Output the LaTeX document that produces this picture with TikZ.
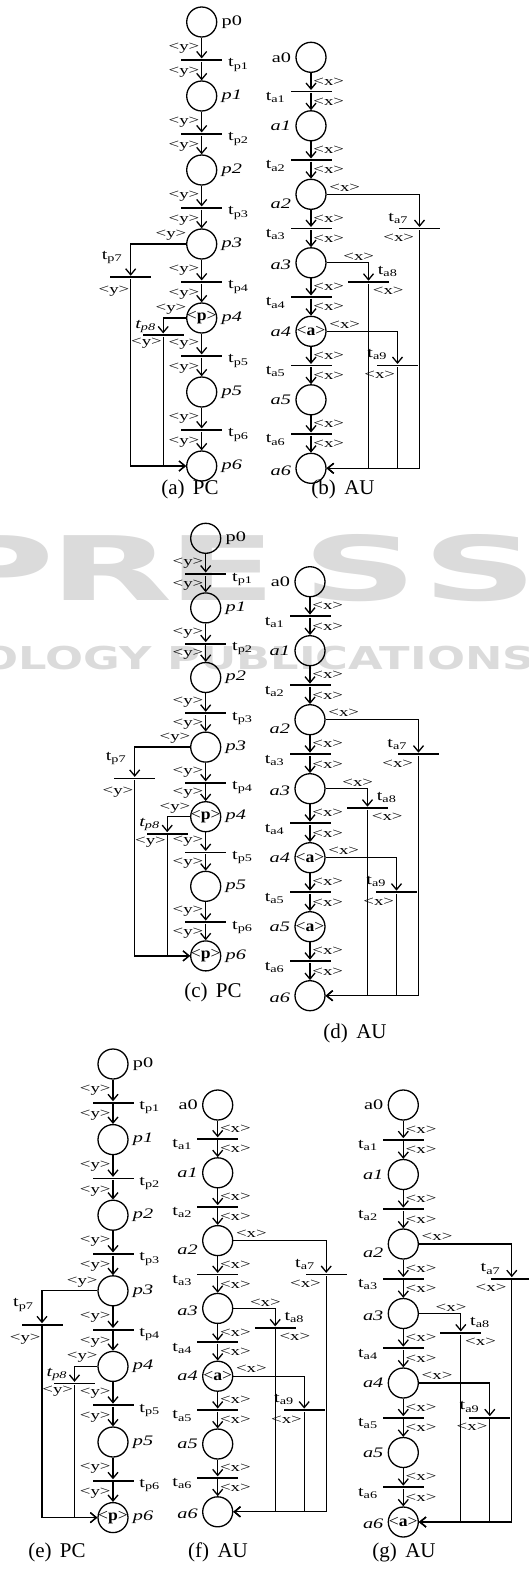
\documentclass[tikz,border=0pt]{standalone}
\usepackage{fontspec}
\setmainfont{Liberation Serif}
\newfontfamily\wmfont{DejaVu Sans}
\usetikzlibrary{arrows.meta, positioning}
\tikzset{
  place/.style={circle, draw, minimum size=30pt, inner sep=0pt},
  tbar/.style={fill=black, minimum width=41pt, minimum height=1.8pt, inner sep=0pt},
  tok/.style={font=\fontsize{16}{16}\selectfont, xscale=1.1, inner sep=0pt},
  lab/.style={font=\fontsize{14.5}{15}\selectfont, xscale=1.4, inner sep=1pt},
  elab/.style={font=\fontsize{13}{13}\selectfont, xscale=1.45, inner sep=1pt},
  subcap/.style={font=\fontsize{21}{21}\selectfont},
  wmark/.style={text=black!14, inner sep=0pt, font=\wmfont\bfseries}
}
% PC net: prefix, x, y of p0, spacing, token of p4, token of p6
\newcommand{\pcnet}[6]{%
\begin{scope}[shift={(#2,#3)}]
  \foreach \i in {0,...,6}
    \node[place] (#1p\i) at (0,\i*#4) {};
  \node[tok] (#1k4) at (#1p4) {#5};
  \node[tok] (#1k6) at (#1p6) {#6};
  \foreach \i in {1,...,6}
    \node[tbar] (#1t\i) at (0,{(\i-0.5)*#4+1}) {};
  \node[tbar] (#1t7) at (-71,3.45*#4) {};
  \node[tbar] (#1t8) at (-38.5,4*#4+17) {};
  \node[lab, right=2pt of #1p0] (#1n0) {p0};
  \foreach \i in {1,...,6}
    \node[lab, right=2pt of #1p\i] (#1n\i) {\textit{p\i}};
  \foreach \i in {1,...,6} {
    \pgfmathtruncatemacro\j{\i-1}
    \draw[->] (#1p\j) -- node[elab, left] (#1u\i) {<y>} (#1t\i);
    \draw[->] (#1t\i) -- node[elab, left, pos=.55] (#1d\i) {<y>} (#1p\i);
    \node[lab, anchor=west] (#1m\i) at ([shift={(3,5)}]#1t\i.east) {t\textsubscript{p\i}};
  }
  \draw[->] (#1p3) -| (#1t7);
  \draw[->] (#1p4) -| (#1t8);
  \draw[->] (#1t7) |- (#1p6);
  \draw[->] (#1t8) |- (#1p6);
  \node[elab, anchor=east] (#1u7) at ([shift={(-13,-9)}]#1p3.center) {<y>};
  \node[elab, anchor=east] (#1u8) at ([shift={(-13,-9)}]#1p4.center) {<y>};
  \node[lab, anchor=south east] (#1m7) at ([shift={(-6,-12)}]#1t7.center) {t\textsubscript{p7}};
  \node[elab, anchor=east] (#1d7) at ([shift={(1,14)}]#1t7.center) {<y>};
  \node[lab, anchor=south east] (#1m8) at ([shift={(-5,-1)}]#1t8.center) {\textit{t\textsubscript{p8}}};
  \node[elab, anchor=east] (#1d8) at ([shift={(1,8)}]#1t8.center) {<y>};
\end{scope}}
% AU net: prefix, x, y of a0, spacing, tokens of a4, a5, a6
\newcommand{\aunet}[7]{%
\begin{scope}[shift={(#2,#3)}]
  \foreach \i in {0,...,6}
    \node[place] (#1a\i) at (0,\i*#4) {};
  \node[tok] (#1k4) at (#1a4) {#5};
  \node[tok] (#1k5) at (#1a5) {#6};
  \node[tok] (#1k6) at (#1a6) {#7};
  \foreach \i in {1,...,6}
    \node[tbar] (#1t\i) at (0,{(\i-0.5)*#4}) {};
  \node[tbar] (#1t7) at (108.5,2.5*#4) {};
  \node[tbar] (#1t8) at (57.5,3*#4+19.5) {};
  \node[tbar] (#1t9) at (86.5,4.5*#4) {};
  \node[lab, left=2pt of #1a0] (#1n0) {a0};
  \foreach \i/\o in {1/0,2/9,3/2,4/0,5/0,6/2}
    \node[lab, anchor=east] (#1n\i) at ([shift={(-2,\o)}]#1a\i.west) {\textit{a\i}};
  \foreach \i in {1,...,6} {
    \pgfmathtruncatemacro\j{\i-1}
    \draw[->] (#1a\j) -- node[elab, right] (#1u\i) {<x>} (#1t\i);
    \draw[->] (#1t\i) -- node[elab, right] (#1d\i) {<x>} (#1a\i);
    \node[lab, anchor=north east] (#1m\i) at ([shift={(-2,-1)}]#1t\i.west) {t\textsubscript{a\i}};
  }
  \draw[->] (#1a2) -| (#1t7);
  \draw[->] (#1a3) -| (#1t8);
  \draw[->] (#1a4) -| (#1t9);
  \foreach \k in {7,8,9}
    \draw[->] (#1t\k) |- (#1a6);
  \node[elab, anchor=west] (#1u7) at ([shift={(16,-7)}]#1a2.center) {<x>};
  \node[elab, anchor=west] (#1u8) at ([shift={(30,-6)}]#1a3.center) {<x>};
  \node[elab, anchor=west] (#1u9) at ([shift={(16,-7)}]#1a4.center) {<x>};
  \node[lab, anchor=south east] (#1m7) at ([shift={(-9,-3)}]#1t7.center) {t\textsubscript{a7}};
  \node[elab, anchor=north east] (#1d7) at ([shift={(-3,4)}]#1t7.center) {<x>};
  \node[lab, anchor=south west] (#1m8) at ([shift={(7,-4)}]#1t8.center) {t\textsubscript{a8}};
  \node[elab, anchor=north west] (#1d8) at ([shift={(2,3)}]#1t8.center) {<x>};
  \node[lab, anchor=south east] (#1m9) at ([shift={(-8,-4)}]#1t9.center) {t\textsubscript{a9}};
  \node[elab, anchor=north east] (#1d9) at ([shift={(0,4)}]#1t9.center) {<x>};
\end{scope}}

\begin{document}
\begin{tikzpicture}[x=1pt, y=-1pt, line width=1.3pt, >={Straight Barb[length=6pt,width=10pt]}]
  \useasboundingbox (0,0) rectangle (529,1571);
  % watermark
  \foreach \c/\x [count=\n] in {P/-4,R/111,E/222,S/360,S/480}
    \node[wmark, font=\wmfont\bfseries\fontsize{89}{89}\selectfont, xscale=1.8] (wm\n) at (\x,568) {\c};
  \node[wmark, font=\wmfont\bfseries\fontsize{31.5}{32}\selectfont, xscale=1.42, anchor=west] (wmpub) at (-20,658) {OLOGY PUBLICATIONS};
  \pcnet{a}{201.7}{22}{74}{<\textbf{p}>}{}
  \aunet{b}{311}{57.3}{68.5}{<\textbf{a}>}{}{}
  \pcnet{c}{205.7}{538.3}{69.6}{<\textbf{p}>}{<\textbf{p}>}
  \aunet{d}{310}{581.7}{69}{<\textbf{a}>}{<\textbf{a}>}{}
  \pcnet{e}{113}{1064}{75.6}{}{<\textbf{p}>}
  \aunet{f}{217.7}{1105}{67.8}{<\textbf{a}>}{}{}
  \aunet{g}{403.3}{1105}{69.5}{}{}{<\textbf{a}>}
  \node[subcap] (capa) at (190,489) {(a)\hspace{0.4em}PC};
  \node[subcap] (capb) at (343,489) {(b)\hspace{0.4em}AU};
  \node[subcap] (capc) at (213,992) {(c)\hspace{0.4em}PC};
  \node[subcap] (capd) at (355,1033) {(d)\hspace{0.4em}AU};
  \node[subcap] (cape) at (57,1552) {(e)\hspace{0.4em}PC};
  \node[subcap] (capf) at (218,1552) {(f)\hspace{0.4em}AU};
  \node[subcap] (capg) at (404,1552) {(g)\hspace{0.4em}AU};
\end{tikzpicture}
\end{document}
